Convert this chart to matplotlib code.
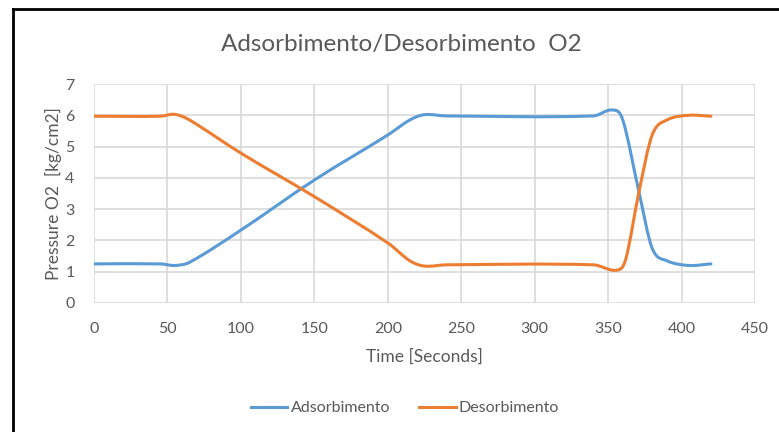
import numpy as np
import matplotlib
matplotlib.use("Agg")
import matplotlib.pyplot as plt
from matplotlib.path import Path
from matplotlib.patches import PathPatch
from matplotlib.lines import Line2D

plt.rcParams['font.family'] = ['Lato', 'DejaVu Sans']

# Time samples (s) and O2 pressure (kg/cm2) for the two beds
t_ads = [0, 45, 55, 65, 100, 150, 200, 215, 225, 240, 340, 353, 360, 371, 380, 390, 405, 420]
p_ads = [1.25, 1.25, 1.2, 1.3, 2.33, 3.93, 5.37, 5.85, 6.02, 5.98, 5.98, 6.17, 5.85, 3.55, 1.75, 1.35, 1.2, 1.25]

t_des = [0, 45, 55, 65, 100, 150, 200, 215, 225, 240, 340, 356, 362, 371, 380, 390, 405, 420]
p_des = [5.97, 5.97, 6.03, 5.85, 4.79, 3.4, 1.92, 1.35, 1.18, 1.22, 1.22, 1.05, 1.4, 3.55, 5.37, 5.85, 6.0, 5.97]

x_ticks = list(range(0, 451, 50))
y_ticks = list(range(0, 8))

BLUE = '#5B9BD5'
ORANGE = '#ED7D31'
TEXT = '#595959'
GRID = '#D9D9D9'


def smooth_path(xs, ys):
    """Cubic Bezier path through the points (Hermite, finite-difference slopes)."""
    x = np.asarray(xs, float)
    y = np.asarray(ys, float)
    n = len(x)
    m = np.zeros(n)
    for i in range(n):
        a = max(i - 1, 0)
        b = min(i + 1, n - 1)
        m[i] = (y[b] - y[a]) / (x[b] - x[a])
    verts = [(x[0], y[0])]
    codes = [Path.MOVETO]
    for i in range(n - 1):
        h = x[i + 1] - x[i]
        verts += [(x[i] + h / 3, y[i] + m[i] * h / 3),
                  (x[i + 1] - h / 3, y[i + 1] - m[i + 1] * h / 3),
                  (x[i + 1], y[i + 1])]
        codes += [Path.CURVE4] * 3
    return Path(verts, codes)


fig = plt.figure(figsize=(7.79, 4.32), dpi=100)
ax = fig.add_axes([94 / 779, 1 - 303 / 432, (755 - 94) / 779, (303 - 84) / 432])

for xs, ys, col in [(t_ads, p_ads, BLUE), (t_des, p_des, ORANGE)]:
    patch = PathPatch(smooth_path(xs, ys), facecolor='none', edgecolor=col,
                      lw=2.2, capstyle='round', joinstyle='round', zorder=3)
    ax.add_patch(patch)

ax.set_xlim(0, 450)
ax.set_ylim(0, 7)
ax.set_xticks(x_ticks)
ax.set_yticks(y_ticks)
ax.grid(True, color=GRID, lw=1.2)
ax.set_axisbelow(True)
for s in ax.spines.values():
    s.set_visible(False)
ax.tick_params(length=0, colors=TEXT, labelsize=11.5)
ax.tick_params(axis='x', pad=14)
ax.tick_params(axis='y', pad=14)

ax.set_xlabel('Time [Seconds]', color=TEXT, fontsize=12.5, labelpad=9)
ax.set_ylabel('Pressure O2  [kg/cm2]', color=TEXT, fontsize=12.5, labelpad=2)

fig.text(401 / 779, 1 - 45 / 432, 'Adsorbimento/Desorbimento  O2', ha='center', va='center',
         color=TEXT, fontsize=17.5)

handles = [Line2D([], [], color=BLUE, lw=2.2), Line2D([], [], color=ORANGE, lw=2.2)]
fig.legend(handles, ['Adsorbimento', 'Desorbimento'], loc='center',
           bbox_to_anchor=(405 / 779, 1 - 408 / 432), ncol=2, frameon=False,
           fontsize=11.5, labelcolor=TEXT, handlelength=2.3, handletextpad=0.2,
           columnspacing=1.8)

# chart frame (left and top edges)
fig.add_artist(Line2D([12.5 / 779, 12.5 / 779], [0, 1 - 9 / 432], color='black', lw=2,
                      transform=fig.transFigure))
fig.add_artist(Line2D([12.5 / 779, 1], [1 - 9 / 432, 1 - 9 / 432], color='black', lw=2,
                      transform=fig.transFigure))

fig.savefig('out.png', dpi=100)
